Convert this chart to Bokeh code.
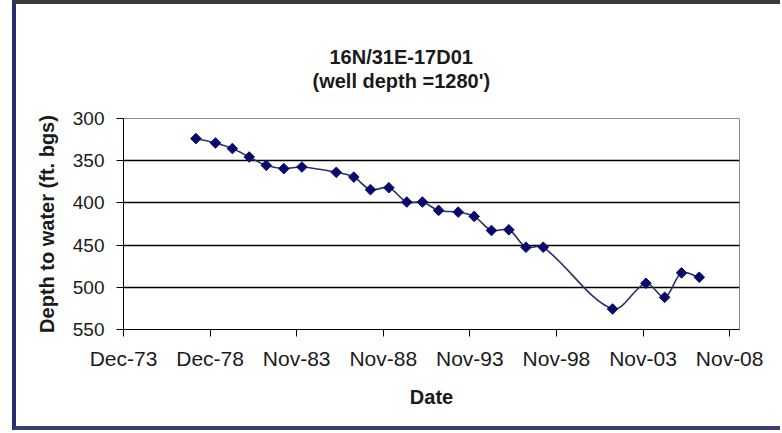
import numpy as np
import pandas as pd
from bokeh.plotting import figure
from bokeh.models import Range1d, FixedTicker, ColumnDataSource, Title
from bokeh.embed import file_html
from bokeh.resources import INLINE

# ---------------- data ----------------
title_line1 = "16N/31E-17D01"
title_line2 = "(well depth =1280')"
x_axis_title = "Date"
y_axis_title = "Depth to water (ft. bgs)"

dates = ["1978-02-05", "1979-03-25", "1980-03-15", "1981-03-05", "1982-02-28",
         "1983-03-05", "1984-03-20", "1986-03-15", "1987-03-20", "1988-03-05",
         "1989-03-28", "1990-04-10", "1991-03-05", "1992-02-10", "1993-03-28",
         "1994-03-01", "1995-03-01", "1996-03-01", "1997-02-25", "1998-02-25",
         "2002-02-25", "2004-01-30", "2005-02-28", "2006-02-20", "2007-02-28"]
depth_ft = [323.8, 329.0, 335.6, 345.6, 355.5,
            359.4, 357.5, 363.8, 369.4, 384.3,
            382.0, 399.0, 399.0, 408.9, 410.9,
            416.0, 432.7, 431.9, 452.5, 452.5,
            525.7, 495.2, 511.9, 482.9, 488.1]

x_tick_labels = ["Dec-73", "Dec-78", "Nov-83", "Nov-88", "Nov-93", "Nov-98", "Nov-03", "Nov-08"]
x_axis_start = "1973-12-01"
x_tick_step_days = 1826
x_axis_span_days = 12990
y_ticks = [300, 350, 400, 450, 500, 550]

# ---------------- derived ----------------
epoch = pd.Timestamp("1970-01-01")
day_num = lambda s: (pd.Timestamp(s) - epoch).days
x_days = np.array([day_num(d) for d in dates], dtype=float)
y_vals = np.array(depth_ft, dtype=float)
x0_axis = day_num(x_axis_start)
x_ticks = [x0_axis + i * x_tick_step_days for i in range(len(x_tick_labels))]

FONT = "Liberation Sans"
TXT = "#1a1a1a"
BORDER_L, BORDER_T, BORDER_B = 4, 4, 4
PAD_L = 12
# host is border-box (outer size W x H); the canvas starts inside the left/top borders
W, H = 782 - PAD_L - 2, 430
ML = 123 - PAD_L - BORDER_L
MT = 118 - BORDER_T
MR = (PAD_L + BORDER_L + W) - 739
MB = (BORDER_T + H) - 329
fw = W - ML - MR
fh = H - MT - MB

# smoothed line ("smoothed line" style): chord-length scaled bezier tangents, in pixel space
sx = fw / x_axis_span_days
sy = fh / (y_ticks[-1] - y_ticks[0])
P = np.column_stack([x_days * sx, y_vals * sy])
n = len(P)
d = np.hypot(*(P[1:] - P[:-1]).T)
seg = {"x0": [], "y0": [], "x1": [], "y1": [], "cx0": [], "cy0": [], "cx1": [], "cy1": []}
def tangent(i):
    if i == 0:
        return (P[1] - P[0]) / d[0]
    if i == n - 1:
        return (P[-1] - P[-2]) / d[-1]
    return (P[i + 1] - P[i - 1]) / (d[i - 1] + d[i])
for i in range(n - 1):
    a, b = P[i], P[i + 1]
    c1 = a + tangent(i) * d[i] / 3.0
    c2 = b - tangent(i + 1) * d[i] / 3.0
    for k, v in (("x0", a[0] / sx), ("y0", a[1] / sy), ("x1", b[0] / sx), ("y1", b[1] / sy),
                 ("cx0", c1[0] / sx), ("cy0", c1[1] / sy), ("cx1", c2[0] / sx), ("cy1", c2[1] / sy)):
        seg[k].append(v)

p = figure(width=W, height=H, output_backend="svg", toolbar_location=None,
           x_range=Range1d(x0_axis, x0_axis + x_axis_span_days),
           y_range=Range1d(y_ticks[-1], y_ticks[0]),
           min_border_left=ML, min_border_right=MR, min_border_top=MT, min_border_bottom=MB,
           styles={"margin-left": f"{PAD_L}px",
                   "overflow": "hidden",
                   "vertical-align": "top",
                   "border-left": f"{BORDER_L}px solid #2b2d72",
                   "border-top": f"{BORDER_T}px solid #3a3a3a",
                   "border-bottom": f"{BORDER_B}px solid #3b3d78"})
p.background_fill_color = "white"
p.border_fill_color = "white"
p.outline_line_color = "#8c8c8c"
p.outline_line_width = 1

# chart title: blank spacer next to the plot, then line 2, then line 1
title_kw = dict(align="left", text_font=FONT, text_font_size="20px", text_font_style="bold")
p.add_layout(Title(text=".", offset=0, standoff=11, text_color="white", **title_kw), "above")
p.add_layout(Title(text=title_line2, offset=189, standoff=0, text_color=TXT, **title_kw), "above")
p.add_layout(Title(text=title_line1, offset=206, standoff=0, text_color=TXT, **title_kw), "above")

# x axis
p.xaxis.ticker = FixedTicker(ticks=x_ticks)
p.xaxis.major_label_overrides = {t: lab for t, lab in zip(x_ticks, x_tick_labels)}
p.xaxis.axis_label = x_axis_title
# y axis
p.yaxis.ticker = FixedTicker(ticks=y_ticks)
p.yaxis.axis_label = y_axis_title

for ax in (p.xaxis[0], p.yaxis[0]):
    ax.axis_line_color = "black"
    ax.axis_line_width = 1
    ax.major_tick_line_color = "black"
    ax.major_tick_out = 7
    ax.major_tick_in = 0
    ax.minor_tick_line_color = None
    ax.major_label_text_font = FONT
    ax.major_label_text_color = TXT
    ax.axis_label_text_font = FONT
    ax.axis_label_text_font_size = "20px"
    ax.axis_label_text_font_style = "bold"
    ax.axis_label_text_color = TXT
p.xaxis.major_label_text_font_size = "21px"
p.yaxis.major_label_text_font_size = "19px"
p.xaxis.major_label_standoff = 10
p.xaxis.axis_label_standoff = 13
p.yaxis.major_label_standoff = 12
p.yaxis.axis_label_standoff = 12

p.xgrid.grid_line_color = None
p.ygrid.ticker = FixedTicker(ticks=y_ticks[1:])
p.ygrid.grid_line_color = "black"
p.ygrid.grid_line_width = 1.5

src_seg = ColumnDataSource(seg)
p.bezier("x0", "y0", "x1", "y1", "cx0", "cy0", "cx1", "cy1", source=src_seg,
         line_color="#2e2e6e", line_width=1.6)
src_pts = ColumnDataSource(dict(x=x_days, y=y_vals))
p.scatter("x", "y", source=src_pts, marker="square", angle=np.pi / 4, size=7.5,
          fill_color="#0a0a6e", line_color="#0a0a6e")

open("out.html", "w").write(file_html(p, INLINE))
